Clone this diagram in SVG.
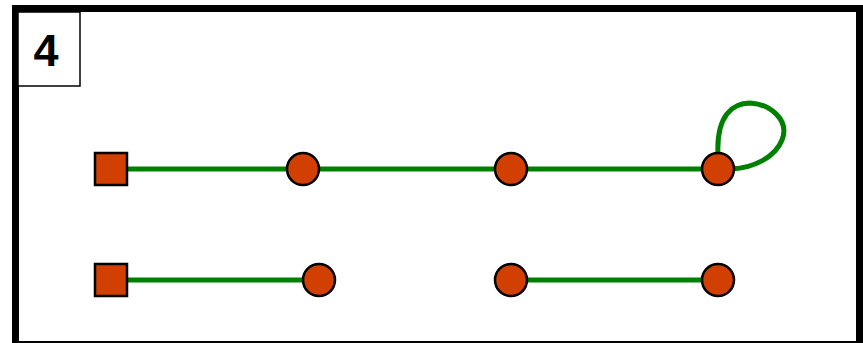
<svg xmlns="http://www.w3.org/2000/svg" width="863" height="343" viewBox="0 0 863 343">
<style>
.edge{stroke:#008000;stroke-width:5;fill:none}
.node{fill:#d14000;stroke:#000;stroke-width:2.5}
</style>
<rect x="0" y="0" width="863" height="343" fill="#fff"/>
<rect x="15.5" y="8.5" width="844" height="336" fill="#fff" stroke="#000" stroke-width="7"/>
<g id="label">
<rect x="18" y="12" width="62" height="74" fill="#fff" stroke="#000" stroke-width="1.5"/>
<text x="46" y="66" font-family="Liberation Sans, Arial, sans-serif" font-weight="bold" font-size="45" text-anchor="middle">4</text>
</g>
<g id="connectors">
<line class="edge" x1="111" y1="169" x2="303" y2="169"/>
<line class="edge" x1="303" y1="169" x2="511" y2="169"/>
<line class="edge" x1="511" y1="169" x2="718" y2="169"/>
<path class="edge" d="M718,155 C716,115 733,103 750,103 C770,104 790,120 782,140 C775,158 752,168 732,169"/>
<line class="edge" x1="111" y1="280" x2="319" y2="280"/>
<line class="edge" x1="511" y1="280" x2="718" y2="280"/>
</g>
<g id="n1"><rect class="node" x="95" y="153" width="32" height="32"/></g>
<g id="n2"><circle class="node" cx="303" cy="169" r="16"/></g>
<g id="n3"><circle class="node" cx="511" cy="169" r="16"/></g>
<g id="n4"><circle class="node" cx="718" cy="169" r="16"/></g>
<g id="n5"><rect class="node" x="95" y="264" width="32" height="32"/></g>
<g id="n6"><circle class="node" cx="319" cy="280" r="16"/></g>
<g id="n7"><circle class="node" cx="511" cy="280" r="16"/></g>
<g id="n8"><circle class="node" cx="718" cy="280" r="16"/></g>
</svg>
